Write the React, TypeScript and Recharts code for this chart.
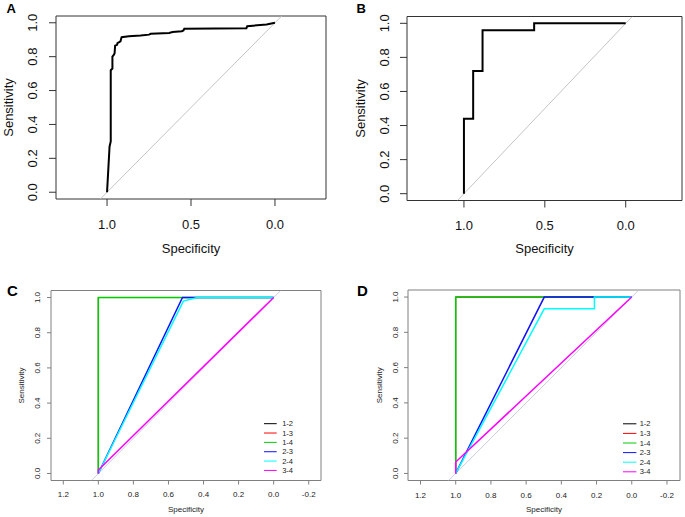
import React from 'react';
import { LineChart, Line, XAxis, YAxis, ReferenceArea, Label, Legend } from 'recharts';

const FONT = '"Liberation Sans", Arial, Helvetica, sans-serif';

// panel A: ROC curve
const specA = [1.0, 0.985, 0.978, 0.978, 0.968, 0.968, 0.96, 0.955, 0.952, 0.94, 0.938, 0.92, 0.915, 0.913, 0.87, 0.8, 0.75, 0.74, 0.63, 0.61, 0.555, 0.545, 0.54, 0.17, 0.165, 0.05, 0.0];
const sensA = [0.0, 0.27, 0.3, 0.72, 0.73, 0.8, 0.81, 0.82, 0.865, 0.87, 0.88, 0.89, 0.91, 0.915, 0.92, 0.925, 0.93, 0.935, 0.94, 0.945, 0.95, 0.955, 0.965, 0.968, 0.98, 0.99, 1.0];

// panel B: ROC curve
const specB = [1, 1, 0.943, 0.943, 0.885, 0.885, 0.566, 0.566, 0];
const sensB = [0, 0.44, 0.44, 0.72, 0.72, 0.96, 0.96, 1, 1];

// panels C and D: pairwise ROC curves
const pairLabels = ['1-2', '1-3', '1-4', '2-3', '2-4', '3-4'];
const pairColors = ['#000000', '#ff0000', '#00cd00', '#1010ff', '#00ffff', '#ff00ff'];
// 1-2 and 1-3 lie under 1-4, drawn thinner so they stay hidden
const pairWidths = [0.7, 0.7, 1.5, 1.5, 1.5, 1.5];

const specC = [[1, 1, 0], [1, 1, 0], [1, 1, 0], [1, 0.52, 0.435, 0], [1, 0.515, 0.435, 0], [1, 1, 0]];
const sensC = [[0, 1, 1], [0, 1, 1], [0, 1, 1], [0, 1, 1, 1], [0, 0.98, 1, 1], [0, 0.02, 1]];

const specD = [[1, 1, 0], [1, 1, 0], [1, 1, 0], [1, 0.497, 0.212, 0], [1, 0.497, 0.212, 0.212, 0], [1, 1, 0]];
const sensD = [[0, 1, 1], [0, 1, 1], [0, 1, 1], [0, 1, 1, 1], [0, 0.933, 0.933, 1, 1], [0, 0.065, 1]];

// identity line, clipped to the plot box
const diagSpec = [1.04, -0.04];
const diagSens = [-0.04, 1.04];

const yTicks = [0, 0.2, 0.4, 0.6, 0.8, 1.0];
const xTicksAB = [1.0, 0.5, 0.0];
const xTicksCD = [1.2, 1.0, 0.8, 0.6, 0.4, 0.2, 0.0, -0.2];
const yDomain: [number, number] = [-0.04, 1.04];

const toPoints = (spec: number[], sens: number[]) => spec.map((s, i) => ({ spec: s, sens: sens[i] }));
const fmt = (v: number) => v.toFixed(1);

interface Series { name: string; color: string; width: number; points: { spec: number; sens: number }[] }

interface PanelProps {
  left: number; top: number; width: number; height: number;
  mTop: number; mRight: number; yAxisWidth: number; xAxisHeight: number;
  xDomain: [number, number]; xTicks: number[];
  fontSize: number; labelSize: number; tickSize: number;
  xTickMargin: number; yTickMargin: number; xLabelOffset: number; yLabelOffset: number;
  boxColor: string; textColor: string; diagColor: string;
  series: Series[];
  legend?: { left: number; top: number; rowH: number; lineW: number; gap: number; fontSize: number };
}

const RocPanel = (p: PanelProps) => {
  const renderLegend = (props: any) => {
    const items = (props.payload || []).filter((it: any) => it.type !== 'none');
    const lg = p.legend!;
    return (
      <svg width={50} height={items.length * lg.rowH + 4} style={{ display: 'block' }}>
        {items.map((it: any, i: number) => {
          const cy = lg.rowH / 2 + i * lg.rowH;
          return (
            <g key={it.value}>
              <line x1={0} x2={lg.lineW} y1={cy} y2={cy} stroke={it.color} strokeWidth={1} />
              <text x={lg.lineW + lg.gap} y={cy} dy="0.35em" fontSize={lg.fontSize} fill={p.textColor} fontFamily={FONT}>{it.value}</text>
            </g>
          );
        })}
      </svg>
    );
  };

  return (
    <div style={{ position: 'absolute', left: p.left, top: p.top }}>
      <LineChart width={p.width} height={p.height} margin={{ top: p.mTop, right: p.mRight, bottom: 0, left: 0 }}>
        <XAxis
          type="number" dataKey="spec" domain={p.xDomain} reversed allowDataOverflow
          ticks={p.xTicks} interval={0} tickFormatter={fmt} height={p.xAxisHeight}
          axisLine={false} tickSize={p.tickSize} tickMargin={p.xTickMargin}
          tick={{ fill: p.textColor, fontSize: p.fontSize }} tickLine={{ stroke: p.boxColor }}
        >
          <Label value="Specificity" position="insideBottom" offset={p.xLabelOffset} fill={p.textColor} fontSize={p.labelSize} />
        </XAxis>
        <YAxis
          type="number" domain={yDomain} allowDataOverflow ticks={yTicks} interval={0}
          width={p.yAxisWidth} axisLine={false} tickSize={p.tickSize} tickMargin={p.yTickMargin}
          tickLine={{ stroke: p.boxColor }}
          tick={(t: any) => (
            <text x={t.x} y={t.y} transform={`rotate(-90 ${t.x} ${t.y})`} textAnchor="middle"
              fontSize={p.fontSize} fill={p.textColor}>{fmt(t.payload.value)}</text>
          )}
        >
          <Label value="Sensitivity" angle={-90} position="insideLeft" offset={p.yLabelOffset}
            fill={p.textColor} fontSize={p.labelSize} style={{ textAnchor: 'middle' }} />
        </YAxis>
        <Line data={toPoints(diagSpec, diagSens)} dataKey="sens" stroke={p.diagColor} strokeWidth={1}
          dot={false} activeDot={false} legendType="none" isAnimationActive={false} />
        {p.series.map((s) => (
          <Line key={s.name} data={s.points} dataKey="sens" name={s.name} stroke={s.color} strokeWidth={s.width}
            dot={false} activeDot={false} type="linear" isAnimationActive={false} />
        ))}
        <ReferenceArea x1={p.xDomain[0]} x2={p.xDomain[1]} y1={yDomain[0]} y2={yDomain[1]}
          fill="none" fillOpacity={0} stroke={p.boxColor} strokeWidth={1} ifOverflow="visible" />
        {p.legend && (
          <Legend layout="horizontal" verticalAlign="middle" align="center" content={renderLegend}
            wrapperStyle={{ left: p.legend.left, top: p.legend.top, width: 50, height: 60 }} />
        )}
      </LineChart>
    </div>
  );
};

const pairSeries = (spec: number[][], sens: number[][]): Series[] =>
  pairLabels.map((name, i) => ({ name, color: pairColors[i], width: pairWidths[i], points: toPoints(spec[i], sens[i]) }));

export default function App() {
  return (
    <div style={{ position: 'absolute', left: 0, top: 0, width: 685, height: 517, background: '#fff', fontFamily: FONT }}>
      <RocPanel
        left={0} top={0} width={340} height={265} mTop={16} mRight={14} yAxisWidth={56} xAxisHeight={66}
        xDomain={[-0.304, 1.304]} xTicks={xTicksAB} fontSize={13} labelSize={13} tickSize={7}
        xTickMargin={14} yTickMargin={12} xLabelOffset={12.5} yLabelOffset={8}
        boxColor="#333" textColor="#111" diagColor="#c4c4c4"
        series={[{ name: 'A', color: '#000', width: 2, points: toPoints(specA, sensA) }]}
      />
      <RocPanel
        left={340} top={0} width={345} height={265} mTop={16.5} mRight={3} yAxisWidth={67} xAxisHeight={64.5}
        xDomain={[-0.348, 1.352]} xTicks={xTicksAB} fontSize={13} labelSize={13} tickSize={7}
        xTickMargin={13} yTickMargin={10.5} xLabelOffset={12.5} yLabelOffset={20}
        boxColor="#333" textColor="#111" diagColor="#c4c4c4"
        series={[{ name: 'B', color: '#000', width: 2, points: toPoints(specB, sensB) }]}
      />
      <RocPanel
        left={0} top={270} width={340} height={247} mTop={20.5} mRight={19} yAxisWidth={51} xAxisHeight={36.5}
        xDomain={[-0.27, 1.27]} xTicks={xTicksCD} fontSize={8} labelSize={8} tickSize={4}
        xTickMargin={7} yTickMargin={6.5} xLabelOffset={5.5} yLabelOffset={21}
        boxColor="#808080" textColor="#222" diagColor="#ccccdd"
        series={pairSeries(specC, sensC)}
        legend={{ left: 264, top: 148.6, rowH: 9.35, lineW: 12.7, gap: 5.5, fontSize: 7.5 }}
      />
      <RocPanel
        left={340} top={270} width={345} height={247} mTop={20} mRight={5} yAxisWidth={68} xAxisHeight={36.5}
        xDomain={[-0.274, 1.271]} xTicks={xTicksCD} fontSize={8} labelSize={8} tickSize={4}
        xTickMargin={8} yTickMargin={6} xLabelOffset={5} yLabelOffset={39}
        boxColor="#808080" textColor="#222" diagColor="#ccccdd"
        series={pairSeries(specD, sensD)}
        legend={{ left: 283.3, top: 149.2, rowH: 9.6, lineW: 13.4, gap: 3.3, fontSize: 7.5 }}
      />
      <svg width={685} height={517} style={{ position: 'absolute', left: 0, top: 0, pointerEvents: 'none' }}>
        <text x={6.5} y={12.7} fontSize={13} fontWeight="bold" fill="#000" fontFamily={FONT}>A</text>
        <text x={356.5} y={12.7} fontSize={13} fontWeight="bold" fill="#000" fontFamily={FONT}>B</text>
        <text x={7} y={296} fontSize={15} fontWeight="bold" fill="#000" fontFamily={FONT}>C</text>
        <text x={357} y={296} fontSize={15} fontWeight="bold" fill="#000" fontFamily={FONT}>D</text>
      </svg>
    </div>
  );
}
